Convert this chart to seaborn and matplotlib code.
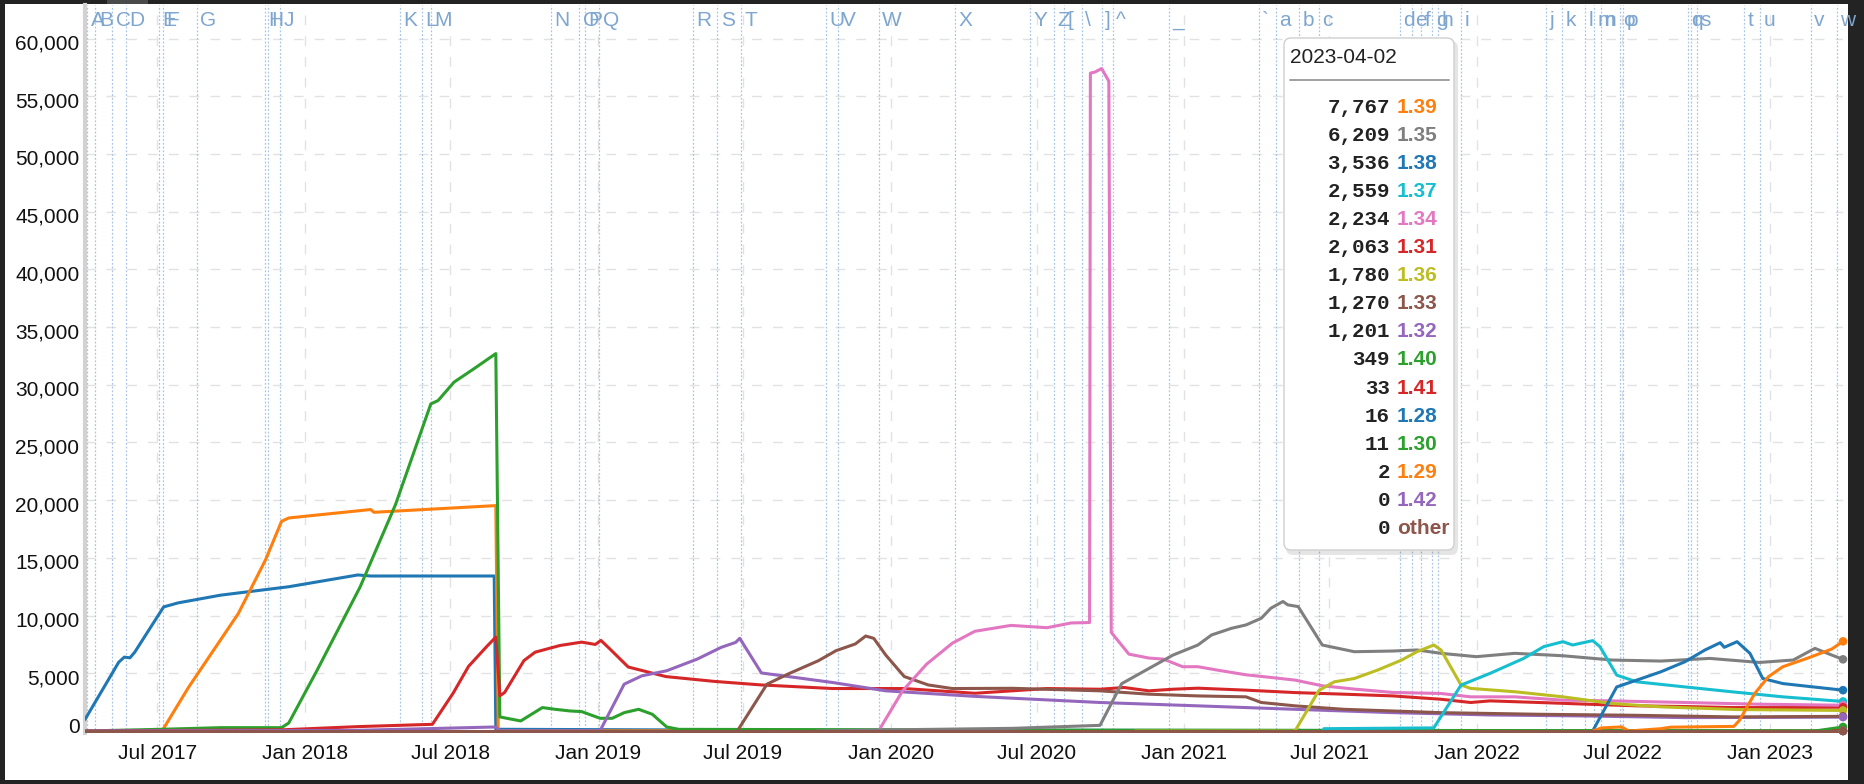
import numpy as np
import pandas as pd
import matplotlib
matplotlib.use("Agg")
import matplotlib.pyplot as plt
import matplotlib.dates as mdates
import matplotlib.transforms as mtransforms
from matplotlib.patches import FancyBboxPatch, Rectangle
import seaborn as sns

# ---------------- data ----------------
versions = ['1.28', '1.29', '1.30', '1.31', '1.32', '1.33', '1.34', '1.35',
            '1.36', '1.37', '1.38', '1.39', '1.40', '1.41', '1.42', 'other']

d128 = ['2017-04-02', '2017-05-14', '2017-05-21', '2017-05-28', '2017-06-03', '2017-07-09',
        '2017-07-27', '2017-09-18', '2017-12-12', '2018-03-08', '2018-03-24', '2018-08-25',
        '2018-08-27', '2019-06-01', '2023-04-02']
v128 = [1000, 5960, 6400, 6340, 6830, 10750, 11100, 11770, 12500, 13520, 13430, 13430,
        150, 80, 16]

d129 = ['2017-04-02', '2017-07-07', '2017-08-09', '2017-10-10', '2017-11-13', '2017-12-03',
        '2017-12-12', '2018-03-24', '2018-03-28', '2018-08-27', '2018-08-30', '2019-06-01',
        '2023-04-02']
v129 = [0, 0, 3780, 10170, 14830, 18170, 18460, 19190, 18950, 19530, 20, 10, 2]

d130 = ['2017-04-02', '2017-07-07', '2017-09-18', '2017-12-03', '2017-12-12', '2018-01-16',
        '2018-03-11', '2018-04-24', '2018-06-07', '2018-06-16', '2018-07-06', '2018-07-31',
        '2018-08-27', '2018-09-01', '2018-09-27', '2018-10-24', '2018-11-09', '2018-11-27',
        '2018-12-12', '2019-01-04', '2019-01-19', '2019-02-03', '2019-02-21', '2019-03-10',
        '2019-03-28', '2019-04-12', '2020-06-01', '2023-04-02']
v130 = [0, 150, 290, 290, 700, 5230, 12500, 19620, 28340, 28630, 30230, 31400,
        32700, 1220, 870, 2030, 1880, 1740, 1680, 1100, 1100, 1590, 1880, 1450,
        350, 145, 80, 11]

d131 = ['2017-04-02', '2017-12-03', '2018-03-08', '2018-06-09', '2018-07-05', '2018-07-24',
        '2018-08-15', '2018-08-27', '2018-09-01', '2018-09-07', '2018-10-01', '2018-10-15',
        '2018-11-15', '2018-12-12', '2018-12-29', '2019-01-05', '2019-01-16', '2019-02-08',
        '2019-03-27', '2019-05-26', '2019-07-24', '2019-10-21', '2020-01-18', '2020-04-15',
        '2020-07-14', '2020-09-18', '2020-10-18', '2020-11-18', '2020-12-18', '2021-01-18',
        '2021-03-19', '2021-05-19', '2021-07-19', '2021-09-18', '2021-11-17', '2021-12-24',
        '2022-01-17', '2022-03-19', '2022-05-19', '2022-07-19', '2022-09-17', '2022-11-17',
        '2023-01-17', '2023-04-02']
v131 = [0, 100, 380, 580, 3300, 5600, 7270, 8140, 3050, 3340, 6100, 6830,
        7410, 7700, 7500, 7850, 7120, 5545, 4715, 4300, 3990, 3680, 3680, 3270,
        3680, 3620, 3770, 3480, 3620, 3710, 3540, 3330, 3190, 3040, 2750, 2470,
        2610, 2470, 2320, 2180, 2120, 2030, 2030, 2063]

d132 = ['2017-04-02', '2018-03-01', '2018-06-01', '2018-08-27', '2018-09-01', '2018-12-30',
        '2019-01-04', '2019-02-03', '2019-02-25', '2019-03-28', '2019-05-05', '2019-06-04',
        '2019-06-22', '2019-06-27', '2019-07-24', '2019-10-21', '2019-12-26', '2020-04-15',
        '2020-09-18', '2021-01-18', '2021-05-19', '2021-09-18', '2022-01-17', '2022-05-19',
        '2022-09-17', '2023-04-02']
v132 = [0, 50, 200, 350, 20, 20, 30, 4060, 4780, 5220, 6230, 7250, 7680, 8030, 5030,
        4200, 3480, 3000, 2470, 2180, 1880, 1590, 1390, 1300, 1160, 1201]

d133 = ['2019-06-24', '2019-07-31', '2019-08-26', '2019-10-03', '2019-10-25', '2019-11-18',
        '2019-12-01', '2019-12-11', '2019-12-26', '2020-01-18', '2020-02-17', '2020-03-18',
        '2020-06-01', '2020-09-18', '2020-11-18', '2021-01-18', '2021-03-19', '2021-04-07',
        '2021-05-19', '2021-07-19', '2021-11-17', '2022-03-19', '2022-07-19', '2022-11-17',
        '2023-04-02']
v133 = [0, 4060, 4930, 6090, 6960, 7540, 8230, 8030, 6580, 4720, 3990, 3680, 3700,
        3480, 3190, 3040, 2960, 2470, 2180, 1880, 1590, 1450, 1360, 1220, 1270]

d134 = ['2019-12-17', '2020-01-16', '2020-02-15', '2020-03-18', '2020-04-15', '2020-05-30',
        '2020-07-14', '2020-08-13', '2020-09-05', '2020-09-06', '2020-09-12', '2020-09-20',
        '2020-09-29', '2020-10-02', '2020-10-24', '2020-11-18', '2020-12-06', '2020-12-30',
        '2021-01-18', '2021-02-16', '2021-03-19', '2021-04-19', '2021-05-19', '2021-06-22',
        '2021-08-01', '2021-09-18', '2021-11-17', '2021-12-24', '2022-02-17', '2022-04-18',
        '2022-06-18', '2022-09-17', '2022-12-19', '2023-04-02']
v134 = [0, 3480, 5800, 7610, 8640, 9150, 8950, 9360, 9400, 57000, 57100, 57400,
        56300, 8550, 6660, 6320, 6230, 5570, 5570, 5220, 4870, 4640, 4410, 3920,
        3630, 3340, 3250, 2960, 2960, 2670, 2610, 2470, 2320, 2234]

d135 = ['2019-10-01', '2020-01-01', '2020-06-01', '2020-09-18', '2020-10-03', '2020-10-15',
        '2020-11-18', '2020-12-18', '2021-01-18', '2021-02-04', '2021-03-01', '2021-03-19',
        '2021-04-07', '2021-04-19', '2021-05-04', '2021-05-10', '2021-05-23', '2021-06-22',
        '2021-08-01', '2021-09-18', '2021-10-18', '2021-11-17', '2021-12-31', '2022-02-17',
        '2022-04-18', '2022-06-18', '2022-08-18', '2022-10-18', '2022-12-19', '2023-01-30',
        '2023-02-26', '2023-03-19', '2023-04-02']
v135 = [0, 100, 230, 490, 2500, 4100, 5420, 6580, 7450, 8320, 8900, 9190, 9770,
        10640, 11220, 10930, 10780, 7450, 6870, 6930, 7020, 6730, 6440, 6730, 6520,
        6150, 6060, 6290, 5940, 6150, 7160, 6580, 6209]

d136 = ['2020-11-01', '2021-05-19', '2021-06-18', '2021-07-07', '2021-08-01', '2021-08-30',
        '2021-09-29', '2021-10-18', '2021-11-08', '2021-11-17', '2021-12-12', '2021-12-24',
        '2022-02-17', '2022-04-18', '2022-06-18', '2022-08-18', '2022-11-21', '2023-04-02']
v136 = [0, 0, 3530, 4260, 4550, 5280, 6150, 6870, 7450, 7020, 3980, 3690, 3400,
        2960, 2380, 2090, 1860, 1780]

d137 = ['2021-06-23', '2021-06-24', '2021-11-08', '2021-12-12', '2022-01-17', '2022-02-28',
        '2022-03-25', '2022-04-18', '2022-04-30', '2022-05-25', '2022-06-03', '2022-06-24',
        '2022-07-19', '2022-09-17', '2022-11-17', '2023-01-17', '2023-04-02']
v137 = [0, 200, 270, 3980, 4990, 6290, 7310, 7740, 7450, 7830, 7310, 4840, 4260,
        3820, 3380, 2960, 2559]

d138 = ['2022-05-25', '2022-06-24', '2022-07-19', '2022-08-18', '2022-09-17', '2022-10-12',
        '2022-10-31', '2022-11-05', '2022-11-21', '2022-12-07', '2022-12-23', '2023-01-17',
        '2023-02-16', '2023-04-02']
v138 = [0, 3820, 4410, 5130, 6000, 7020, 7650, 7250, 7740, 6730, 4550, 4110, 3880, 3536]

d139 = ['2022-05-25', '2022-06-05', '2022-06-30', '2022-07-09', '2022-08-18', '2022-08-30',
        '2022-11-17', '2022-11-24', '2022-12-13', '2022-12-30', '2023-01-17', '2023-02-16',
        '2023-03-19', '2023-04-02']
v139 = [0, 270, 350, 0, 200, 330, 400, 930, 3250, 4700, 5570, 6290, 7100, 7767]

d140 = ['2023-02-26', '2023-04-02']
v140 = [0, 349]
d141 = ['2023-03-20', '2023-04-02']
v141 = [0, 33]
d142 = ['2023-03-28', '2023-04-02']
v142 = [0, 0]
d_other = ['2017-04-02', '2023-04-02']
v_other = [0, 0]

legend_date = '2023-04-02'
legend_versions = ['1.39', '1.35', '1.38', '1.37', '1.34', '1.31', '1.36', '1.33',
                   '1.32', '1.40', '1.41', '1.28', '1.30', '1.29', '1.42', 'other']
legend_counts = [7767, 6209, 3536, 2559, 2234, 2063, 1780, 1270, 1201, 349, 33, 16,
                 11, 2, 0, 0]

event_labels = ['A', 'B', 'C', 'D', 'E', 'F', 'G', 'H', 'I', 'J', 'K', 'L', 'M', 'N',
                'O', 'P', 'Q', 'R', 'S', 'T', 'U', 'V', 'W', 'X', 'Y', 'Z', '[', '\\',
                ']', '^', '_', '`', 'a', 'b', 'c', 'd', 'e', 'f', 'g', 'h', 'i', 'j',
                'k', 'l', 'm', 'n', 'o', 'p', 'q', 'r', 's', 't', 'u', 'v', 'w']
event_dates = ['2017-04-05', '2017-04-15', '2017-05-06', '2017-05-23', '2017-07-03',
               '2017-07-08', '2017-08-19', '2017-11-12', '2017-11-16', '2017-12-01',
               '2018-04-29', '2018-05-27', '2018-06-07', '2018-11-04', '2018-12-09',
               '2018-12-16', '2019-01-03', '2019-04-30', '2019-05-30', '2019-06-28',
               '2019-10-12', '2019-10-28', '2019-12-17', '2020-03-21', '2020-06-23',
               '2020-07-23', '2020-08-04', '2020-08-26', '2020-09-20', '2020-10-04',
               '2020-12-13', '2021-04-04', '2021-04-25', '2021-05-24', '2021-06-18',
               '2021-09-27', '2021-10-12', '2021-10-23', '2021-11-06', '2021-11-13',
               '2021-12-12', '2022-03-28', '2022-04-17', '2022-05-16', '2022-05-27',
               '2022-06-04', '2022-06-28', '2022-07-02', '2022-09-21', '2022-09-24',
               '2022-10-02', '2022-11-30', '2022-12-20', '2023-02-21', '2023-03-25']

xtick_dates = ['2017-07-01', '2018-01-01', '2018-07-01', '2019-01-01', '2019-07-01',
               '2020-01-01', '2020-07-01', '2021-01-01', '2021-07-01', '2022-01-01',
               '2022-07-01', '2023-01-01']
xtick_labels = ['Jul 2017', 'Jan 2018', 'Jul 2018', 'Jan 2019', 'Jul 2019', 'Jan 2020',
                'Jul 2020', 'Jan 2021', 'Jul 2021', 'Jan 2022', 'Jul 2022', 'Jan 2023']
ytick_values = [0, 5000, 10000, 15000, 20000, 25000, 30000, 35000, 40000, 45000,
                50000, 55000, 60000]
ytick_labels = ['0', '5,000', '10,000', '15,000', '20,000', '25,000', '30,000',
                '35,000', '40,000', '45,000', '50,000', '55,000', '60,000']

series = {
    '1.28': (d128, v128), '1.29': (d129, v129), '1.30': (d130, v130),
    '1.31': (d131, v131), '1.32': (d132, v132), '1.33': (d133, v133),
    '1.34': (d134, v134), '1.35': (d135, v135), '1.36': (d136, v136),
    '1.37': (d137, v137), '1.38': (d138, v138), '1.39': (d139, v139),
    '1.40': (d140, v140), '1.41': (d141, v141), '1.42': (d142, v142),
    'other': (d_other, v_other),
}

# ---------------- build frame ----------------
rows = []
for ver in versions:
    ds, vs = series[ver]
    for d, v in zip(ds, vs):
        rows.append((ver, pd.Timestamp(d), v))
df = pd.DataFrame(rows, columns=['version', 'date', 'count'])

tab = sns.color_palette('tab10', 10)
palette = {ver: tab[i % 10] for i, ver in enumerate(versions)}

# ---------------- figure ----------------
sns.set_style('white')
plt.rcParams['font.family'] = ['Liberation Sans', 'DejaVu Sans']

W, H = 1865, 784
fig = plt.figure(figsize=(W / 100, H / 100), dpi=100)
fig.patch.set_facecolor('#232323')

bg = fig.add_axes([0, 0, 1, 1], zorder=-10)
bg.set_xlim(0, W)
bg.set_ylim(H, 0)
bg.axis('off')
bg.add_patch(Rectangle((5, 4), 1843, 776, facecolor='white', edgecolor='none'))
bg.add_patch(Rectangle((107, 0), 41, 4, facecolor='#4a4a4a', edgecolor='none'))

ax_l, ax_r, ax_t, ax_b = 85, 1843, 5, 733
ax = fig.add_axes([ax_l / W, (H - ax_b) / H, (ax_r - ax_l) / W, (ax_b - ax_t) / H])
ax.set_facecolor('white')

# event lines
for d in event_dates:
    ax.axvline(pd.Timestamp(d), color='#a9c6e4', lw=0.9, ls=(0, (1.5, 1.5)), zorder=0.6)

sns.lineplot(data=df, x='date', y='count', hue='version', hue_order=versions,
             palette=palette, estimator=None, sort=True, lw=2.2, legend=False, ax=ax,
             zorder=3)

end_df = pd.DataFrame({'version': legend_versions,
                       'date': [pd.Timestamp(legend_date)] * len(legend_versions),
                       'count': legend_counts})
sns.scatterplot(data=end_df, x='date', y='count', hue='version', hue_order=versions,
                palette=palette, s=38, linewidth=0, legend=False, ax=ax, zorder=4,
                clip_on=False)

ax.set_xlim(pd.Timestamp('2017-04-02'), pd.Timestamp('2023-04-02'))
ax.set_ylim(-173, 62903)
ax.set_xlabel('')
ax.set_ylabel('')

ax.set_xticks(pd.to_datetime(xtick_dates))
ax.set_xticklabels(xtick_labels)
ax.set_yticks(ytick_values)
ax.set_yticklabels(ytick_labels)
ax.tick_params(axis='both', length=0, labelsize=15, colors='#111111')
ax.tick_params(axis='x', pad=8)
ax.tick_params(axis='y', pad=4)

down = mtransforms.ScaledTranslation(0, -3.5 / 100, fig.dpi_scale_trans)
up = mtransforms.ScaledTranslation(0, 6 / 100, fig.dpi_scale_trans)
for lab in ax.get_yticklabels():
    if lab.get_text() == '0':
        lab.set_transform(lab.get_transform() + up)
    else:
        lab.set_transform(lab.get_transform() + down)

ax.grid(True, color='#e2e2e2', lw=1.0, ls=(0, (7, 8)), zorder=0)
ax.set_axisbelow(True)
for s in ['top', 'right', 'bottom']:
    ax.spines[s].set_visible(False)
ax.spines['left'].set_color('#d2d2d2')
ax.spines['left'].set_linewidth(3)

# event letters
letter_y = 1 - (20.5 - ax_t) / (ax_b - ax_t)
for lab, d in zip(event_labels, event_dates):
    ax.annotate(lab, xy=(mdates.date2num(pd.Timestamp(d)), letter_y),
                xycoords=('data', 'axes fraction'), xytext=(2.5, 0),
                textcoords='offset points', ha='left', va='center', fontsize=15,
                color='#7ea6cf', annotation_clip=False, zorder=5)

# ---------------- legend box ----------------
ov = fig.add_axes([0, 0, 1, 1], zorder=10)
ov.set_xlim(0, W)
ov.set_ylim(H, 0)
ov.axis('off')
ov.patch.set_alpha(0)

bx, by, bw, bh = 1284, 38, 170, 512
ov.add_patch(FancyBboxPatch((bx + 2, by + 3), bw + 2, bh + 2,
                            boxstyle='round,pad=0,rounding_size=7',
                            facecolor='#000000', alpha=0.10, edgecolor='none'))
ov.add_patch(FancyBboxPatch((bx, by), bw, bh, boxstyle='round,pad=0,rounding_size=7',
                            facecolor='white', edgecolor='#cfcfcf', lw=1))
ov.text(bx + 6, 57, legend_date, fontsize=15, ha='left', va='center', color='#222222')
ov.plot([bx + 6, bx + 165], [80, 80], color='#999999', lw=1.3)
for i, (ver, cnt) in enumerate(zip(legend_versions, legend_counts)):
    y = 107 + 28.1 * i
    ov.text(1390, y, f'{cnt:,}', fontsize=15, ha='right', va='center',
            color='#222222', family=['Liberation Mono', 'DejaVu Sans Mono'],
            fontweight='bold')
    ov.text(1397, y, ver, fontsize=15, ha='left', va='center',
            color=palette[ver], fontweight='bold')

fig.savefig('out.png', dpi=100, facecolor=fig.get_facecolor())
